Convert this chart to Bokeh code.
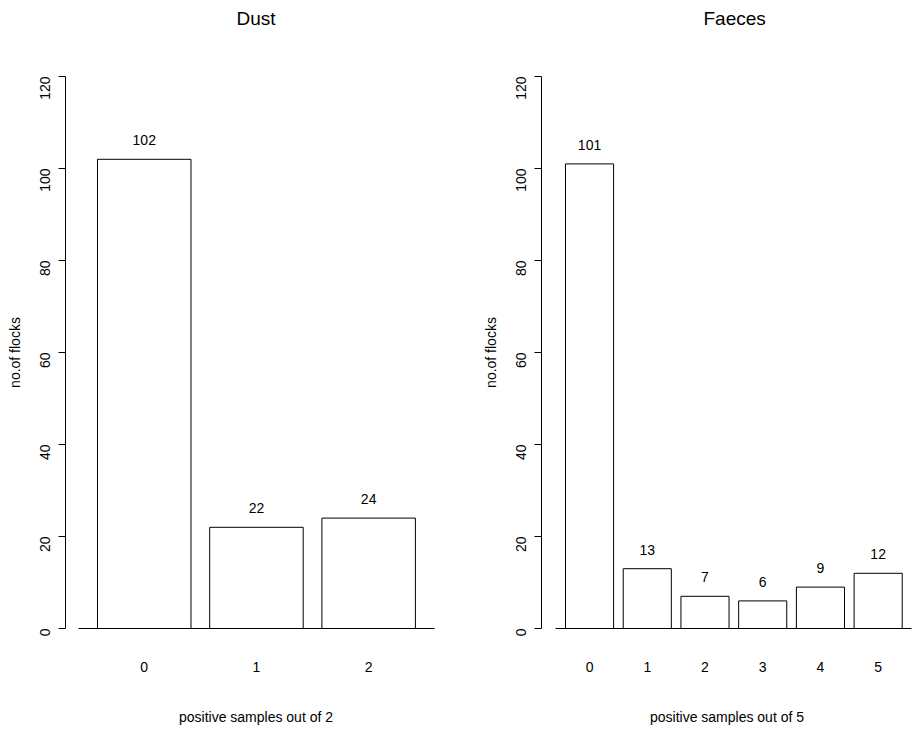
import math
from bokeh.plotting import figure
from bokeh.layouts import row
from bokeh.models import ColumnDataSource, Range1d, FixedTicker, LabelSet, Title
from bokeh.core.properties import value
from bokeh.embed import file_html
from bokeh.resources import INLINE

# ---- data ----
dust_categories = ["0", "1", "2"]
dust_counts = [102, 22, 24]
faeces_categories = ["0", "1", "2", "3", "4", "5"]
faeces_counts = [101, 13, 7, 6, 9, 12]
y_ticks = [0, 20, 40, 60, 80, 100, 120]
titles = ["Dust", "Faeces"]
x_labels = ["positive samples out of 2", "positive samples out of 5"]
y_label = "no.of flocks"

FONT = "Liberation Sans"
TXT = "14px"
BAR_W = 1.0
SPACE = 0.2
Y_MAX = 120


def panel(cats, counts, title, xlab, width, mb_left, mb_right, x_range, bounds,
          title_align, title_offset):
    centers = [SPACE + BAR_W / 2 + i * (BAR_W + SPACE) for i in range(len(cats))]
    src = ColumnDataSource(dict(x=centers, top=counts, lab=[str(c) for c in counts]))
    p = figure(width=width, height=730, output_backend="svg", toolbar_location=None,
               x_range=Range1d(*x_range), y_range=Range1d(0, Y_MAX),
               min_border_left=mb_left, min_border_right=mb_right,
               min_border_top=76, min_border_bottom=102)
    p.outline_line_color = None
    p.xgrid.visible = False
    p.ygrid.visible = False
    p.background_fill_color = "white"
    p.border_fill_color = "white"

    p.vbar(x="x", top="top", bottom=0, width=BAR_W, source=src,
           fill_color="white", line_color="black", line_width=1)
    p.add_layout(LabelSet(x="x", y="top", text="lab", source=src, y_offset=19,
                          text_align="center", text_baseline="middle",
                          text_font=value(FONT), text_font_size=TXT,
                          text_color="black"))

    # blank spacer title next to the frame, then the real title above it
    p.add_layout(Title(text=" ", standoff=30, text_font=FONT, text_font_size="10px",
                       text_color="white"), "above")
    p.add_layout(Title(text=title, standoff=10, text_font=FONT, text_font_size="19px",
                       text_font_style="normal", text_color="black",
                       align=title_align, offset=title_offset), "above")

    xa = p.xaxis[0]
    xa.ticker = FixedTicker(ticks=centers)
    xa.major_label_overrides = {c: lab for c, lab in zip(centers, cats)}
    xa.bounds = bounds
    xa.major_tick_out = 0
    xa.major_tick_in = 0
    xa.minor_tick_out = 0
    xa.minor_tick_in = 0
    xa.axis_line_color = "black"
    xa.major_label_standoff = 33
    xa.major_label_text_font = FONT
    xa.major_label_text_font_size = TXT
    xa.major_label_text_color = "black"
    xa.axis_label = xlab
    xa.axis_label_standoff = 34
    xa.axis_label_text_font = FONT
    xa.axis_label_text_font_size = TXT
    xa.axis_label_text_font_style = "normal"
    xa.axis_label_text_color = "black"

    ya = p.yaxis[0]
    ya.ticker = FixedTicker(ticks=y_ticks)
    ya.major_tick_out = 7
    ya.major_tick_in = 0
    ya.minor_tick_out = 0
    ya.minor_tick_in = 0
    ya.axis_line_color = "black"
    ya.major_tick_line_color = "black"
    ya.major_label_orientation = math.pi / 2
    ya.major_label_standoff = 14
    ya.major_label_text_font = FONT
    ya.major_label_text_font_size = TXT
    ya.major_label_text_color = "black"
    ya.axis_label = y_label
    ya.axis_label_standoff = 9
    ya.axis_label_text_font = FONT
    ya.axis_label_text_font_size = TXT
    ya.axis_label_text_font_style = "normal"
    ya.axis_label_text_color = "black"
    return p


p1 = panel(dust_categories, dust_counts, titles[0], x_labels[0], 466, 65, 20,
           (-0.1422, 3.9326), (0, 3.8), "center", 0)
p2 = panel(faeces_categories, faeces_counts, titles[1], x_labels[1], 446, 75, 0,
           (-0.299, 7.414), (0, 7.4), "left", 162)

layout = row(p1, p2)
open("out.html", "w").write(file_html(layout, INLINE))
